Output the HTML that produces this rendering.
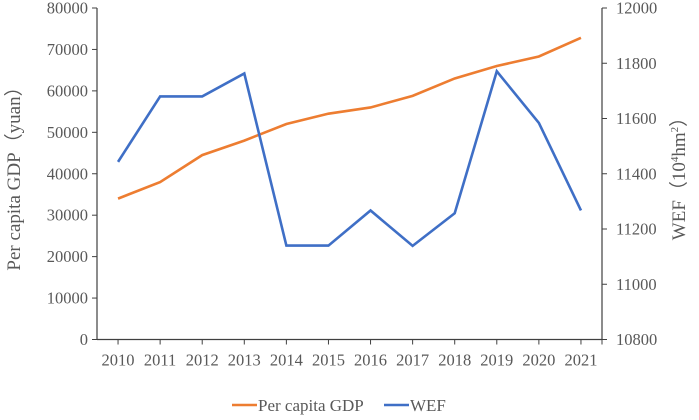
<!DOCTYPE html>
<html><head><meta charset="utf-8"><style>
body{margin:0;background:#fff}
svg text{font-family:"Liberation Serif",serif;fill:#595959}
</style></head><body>
<svg id="chart" width="699" height="415" xmlns="http://www.w3.org/2000/svg"></svg>
<script>
const years=["2010","2011","2012","2013","2014","2015","2016","2017","2018","2019","2020","2021"];
const gdp=[34000,38000,44500,48000,52000,54500,56000,58800,63000,66000,68300,72800];
const wef=[11443,11680,11680,11763,11140,11140,11267,11139,11257,11771,11584,11267];
const leftTicks=[0,10000,20000,30000,40000,50000,60000,70000,80000];
const rightTicks=[10800,11000,11200,11400,11600,11800,12000];
const svg=document.getElementById('chart');const NS='http://www.w3.org/2000/svg';
const L=97,R=602,T=8,B=339.5;const bw=(R-L)/years.length;
const x=i=>L+bw*(i+0.5);
const yl=v=>B-(v/80000)*(B-T);
const yr=v=>B-((v-10800)/1200)*(B-T);
function el(t,a,p){const e=document.createElementNS(NS,t);for(const k in a)e.setAttribute(k,a[k]);(p||svg).appendChild(e);return e;}
let e;
e=el('line',{x1:L,y1:T,x2:L,y2:B,stroke:'#404040','stroke-width':1.2});


e=el('line',{x1:R,y1:T,x2:R,y2:B,stroke:'#404040','stroke-width':1.2});


e=el('line',{x1:L,y1:B,x2:R,y2:B,stroke:'#404040','stroke-width':1.2});


leftTicks.forEach(v=>{
 el('line',{x1:L-5,y1:yl(v),x2:L,y2:yl(v),stroke:'#404040'});
 e=el('text',{x:L-9,y:yl(v)+5.5,'text-anchor':'end','font-size':16.5});e.textContent=v;
 
 
});
rightTicks.forEach(v=>{
 el('line',{x1:R,y1:yr(v),x2:R+5,y2:yr(v),stroke:'#404040'});
 e=el('text',{x:R+14,y:yr(v)+5.5,'font-size':16.5});e.textContent=v;
 
 
});
years.forEach((yv,i)=>{
 el('line',{x1:x(i),y1:B,x2:x(i),y2:B+5,stroke:'#404040'});
 e=el('text',{x:x(i),y:B+26,'text-anchor':'middle','font-size':16.5});e.textContent=yv;
 
 
});
el('line',{x1:R,y1:B,x2:R,y2:B+5,stroke:'#404040'});
e=el('polyline',{points:gdp.map((v,i)=>x(i)+','+yl(v)).join(' '),fill:'none',stroke:'#ED7D31','stroke-width':2.6});


e=el('polyline',{points:wef.map((v,i)=>x(i)+','+yr(v)).join(' '),fill:'none',stroke:'#3F6FC6','stroke-width':2.6});


e=el('text',{x:0,y:0,'font-size':19,transform:'translate(20,174) rotate(-90)','text-anchor':'middle'});e.textContent='Per capita GDP（yuan）';


e=el('text',{x:0,y:0,'font-size':19,transform:'translate(685,174) rotate(-90)','text-anchor':'middle'});
e.innerHTML='WEF（10<tspan font-size="11" dy="-7">4</tspan><tspan dy="7">hm</tspan><tspan font-size="11" dy="-7">2</tspan><tspan dy="7">）</tspan>';


e=el('line',{x1:232,y1:405,x2:257,y2:405,stroke:'#ED7D31','stroke-width':2.6});


e=el('text',{x:258,y:411,'font-size':17});e.textContent='Per capita GDP';


e=el('line',{x1:384,y1:405,x2:409,y2:405,stroke:'#3F6FC6','stroke-width':2.6});


e=el('text',{x:410,y:411,'font-size':17});e.textContent='WEF';


</script>
</body></html>
